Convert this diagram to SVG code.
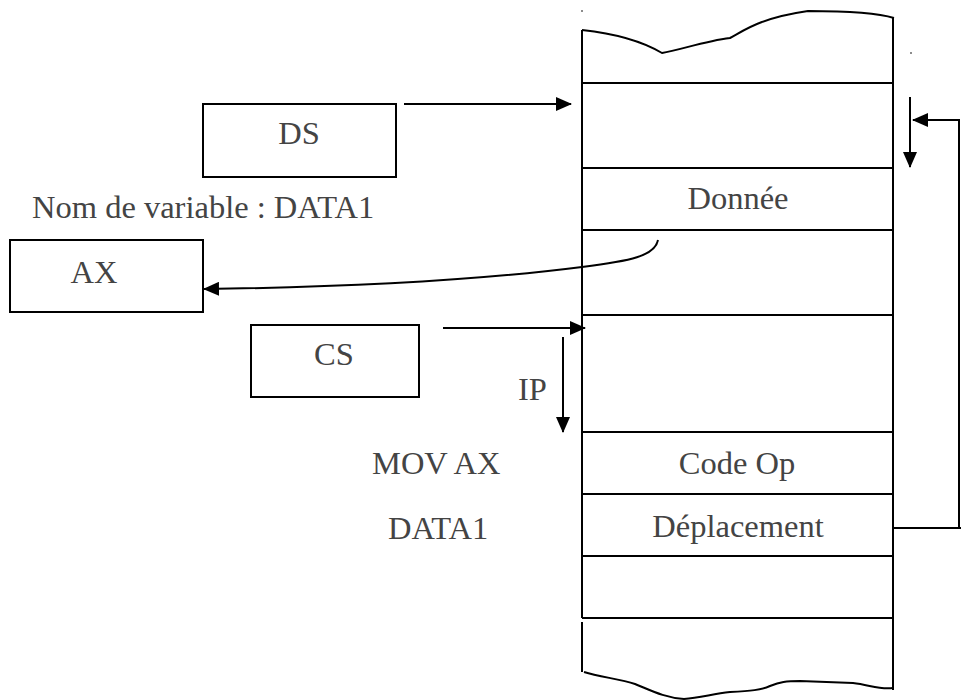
<svg xmlns="http://www.w3.org/2000/svg" width="968" height="700" viewBox="0 0 968 700">
  <style>
    .ln { stroke: #000; stroke-width: 2; fill: none; }
    .box { stroke: #000; stroke-width: 2; fill: #fff; }
    .lbl { font-family: "Liberation Serif", "Times New Roman", serif; font-size: 32.5px; fill: #444; }
    .mid { text-anchor: middle; }
  </style>
  <defs>
    <marker id="head" viewBox="0 0 16 14" refX="15" refY="7" markerWidth="16" markerHeight="14" markerUnits="userSpaceOnUse" orient="auto">
      <path d="M0,0 L16,7 L0,14 Z" fill="#000"/>
    </marker>
  </defs>
  <rect width="968" height="700" fill="#fff"/>

  <!-- memory column -->
  <g id="memory">
    <path class="ln" d="M582,30 C610,33 640,40 662,53 C680,50 705,41 730,38 C745,30 760,18 808,11 C840,11 875,12 894,18"/>
    <line class="ln" x1="582" y1="30" x2="582" y2="618"/>
    <line class="ln" x1="582" y1="622" x2="582" y2="672"/>
    <line class="ln" x1="893" y1="17" x2="893" y2="690"/>
    <path class="ln" d="M584,672 C600,677 620,679 635,684 C650,690 665,698 684,699 C700,698 712,694 730,692 C750,691 762,690 770,686 C780,682 786,681 800,681 L853,683 C870,685 880,690 893,688"/>
    <line class="ln" x1="582" y1="83" x2="893" y2="83"/>
    <line class="ln" x1="582" y1="168" x2="893" y2="168"/>
    <line class="ln" x1="582" y1="230" x2="893" y2="230"/>
    <line class="ln" x1="582" y1="315" x2="893" y2="315"/>
    <line class="ln" x1="582" y1="432" x2="893" y2="432"/>
    <line class="ln" x1="582" y1="494" x2="893" y2="494"/>
    <line class="ln" x1="582" y1="556" x2="893" y2="556"/>
    <line class="ln" x1="582" y1="618" x2="893" y2="618"/>
    <text class="lbl mid" x="738" y="209">Donnée</text>
    <text class="lbl mid" x="737" y="474">Code Op</text>
    <text class="lbl mid" x="738" y="537">Déplacement</text>
    <circle cx="582" cy="11" r="1" fill="#666"/>
    <circle cx="911" cy="53" r="1" fill="#666"/>
  </g>

  <g id="ds">
    <rect class="box" x="203" y="104" width="193" height="73"/>
    <text class="lbl mid" x="299" y="144">DS</text>
  </g>

  <g id="varname">
    <text class="lbl" x="32" y="218">Nom de variable : DATA1</text>
  </g>

  <g id="ax">
    <rect class="box" x="10" y="240" width="193" height="72"/>
    <text class="lbl mid" x="94" y="283">AX</text>
  </g>

  <g id="cs">
    <rect class="box" x="251" y="325" width="168" height="72"/>
    <text class="lbl mid" x="334" y="365">CS</text>
  </g>

  <g id="ip-label">
    <text class="lbl" x="518" y="400">IP</text>
  </g>

  <g id="instr">
    <text class="lbl" x="372" y="474">MOV AX</text>
    <text class="lbl" x="388" y="539">DATA1</text>
  </g>

  <!-- connectors -->
  <g id="connectors">
    <line class="ln" x1="404" y1="104" x2="571" y2="104" marker-end="url(#head)"/>
    <line class="ln" x1="443" y1="328" x2="585" y2="328" marker-end="url(#head)"/>
    <line class="ln" x1="563" y1="337" x2="563" y2="432" marker-end="url(#head)"/>
    <path class="ln" d="M658,240 C655,256 630,261 582,267 C480,280 360,287 204,289" marker-end="url(#head)"/>
    <line class="ln" x1="910" y1="97" x2="910" y2="167" marker-end="url(#head)"/>
    <polyline class="ln" points="893,528 961,528"/>
    <polyline class="ln" points="959,528 959,120 913,120" marker-end="url(#head)"/>
  </g>
</svg>
